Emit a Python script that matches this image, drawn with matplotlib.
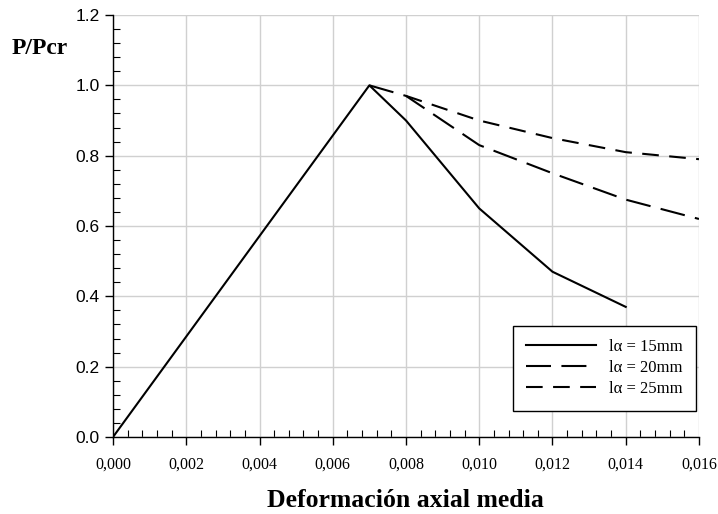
import matplotlib
matplotlib.use("Agg")
import matplotlib.pyplot as plt
from matplotlib.ticker import MultipleLocator, FuncFormatter

# datos
x_15 = [0.0, 0.007, 0.008, 0.010, 0.012, 0.014]
y_15 = [0.0, 1.0, 0.90, 0.65, 0.47, 0.37]
x_20 = [0.007, 0.008, 0.010, 0.012, 0.014, 0.016]
y_20 = [1.0, 0.97, 0.83, 0.75, 0.675, 0.62]
x_25 = [0.008, 0.010, 0.012, 0.014, 0.016]
y_25 = [0.97, 0.90, 0.85, 0.81, 0.79]
labels = ["lα = 15mm", "lα = 20mm", "lα = 25mm"]

fig = plt.figure(figsize=(7.18, 5.14), dpi=100)
ax = fig.add_axes([0.1574, 0.1498, 0.8161, 0.821])

lw = 1.5
ax.plot(x_15, y_15, color="black", lw=lw, label=labels[0])
ax.plot(x_20, y_20, color="black", lw=lw, dashes=(12, 5), label=labels[1])
ax.plot(x_25, y_25, color="black", lw=lw, dashes=(8, 5), label=labels[2])

ax.set_xlim(0, 0.016)
ax.set_ylim(0, 1.2)
ax.xaxis.set_major_locator(MultipleLocator(0.002))
ax.xaxis.set_minor_locator(MultipleLocator(0.0004))
ax.yaxis.set_major_locator(MultipleLocator(0.2))
ax.yaxis.set_minor_locator(MultipleLocator(0.04))
ax.xaxis.set_major_formatter(FuncFormatter(lambda v, p: f"{v:.3f}".replace(".", ",")))
ax.yaxis.set_major_formatter(FuncFormatter(lambda v, p: f"{v:.1f}"))

ax.grid(True, which="major", color="#d0d0d0", lw=1.0)
ax.set_axisbelow(True)
for s in ["top", "right"]:
    ax.spines[s].set_visible(False)
for s in ["left", "bottom"]:
    ax.spines[s].set_linewidth(1.0)

ax.tick_params(which="major", direction="out", length=6, width=1.0)
ax.tick_params(which="minor", direction="in", length=5, width=0.8)
for t in ax.get_xticklabels():
    t.set_family("Liberation Serif")
    t.set_fontsize(11.5)
for t in ax.get_yticklabels():
    t.set_family("Liberation Sans")
    t.set_fontsize(12.5)
ax.tick_params(axis="x", pad=8)

leg = ax.legend(loc="lower right", bbox_to_anchor=(1.01, 0.043),
                prop={"family": "Liberation Serif", "size": 12},
                fancybox=False, framealpha=1, edgecolor="black",
                handlelength=4.2, borderpad=0.8, labelspacing=0.3)
leg.get_frame().set_linewidth(1.0)

fig.text(0.055, 0.905, "P/Pcr", family="Liberation Serif", weight="bold",
         fontsize=17, ha="center", va="center")
fig.text(0.565, 0.026, "Deformación axial media", family="Liberation Serif",
         weight="bold", fontsize=18.5, ha="center", va="center")

fig.savefig("out.png", dpi=100)
